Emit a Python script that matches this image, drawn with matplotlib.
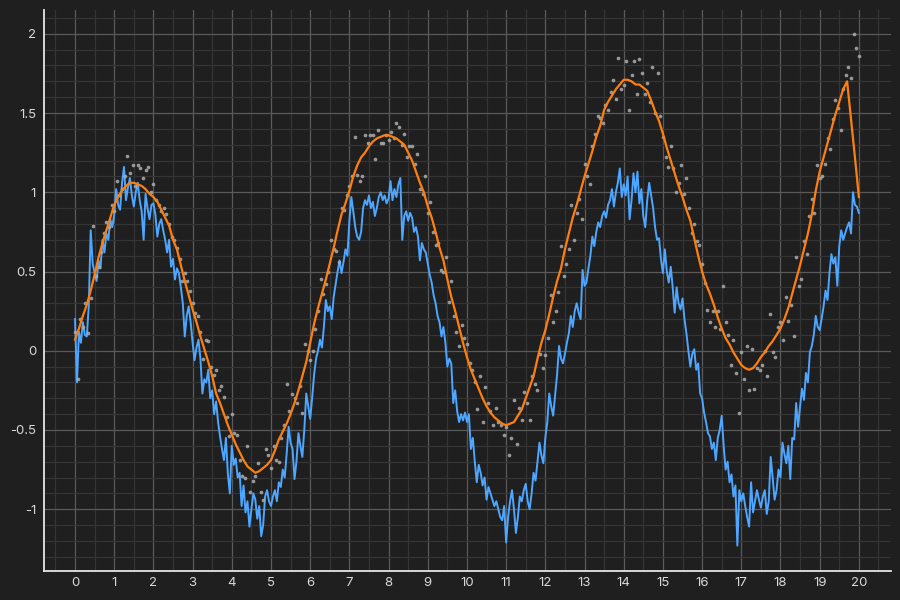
import matplotlib
matplotlib.use('Agg')
import matplotlib.pyplot as plt
import numpy as np
from matplotlib.ticker import MultipleLocator, FuncFormatter

# noisy signal (blue), sampled every 0.05 from 0 to 20
blue_y = [
    0.20, -0.20, 0.12, 0.05, 0.18, 0.10, 0.09, 0.28, 0.76, 0.55, 0.49, 0.44, 0.57, 0.52, 0.70, 0.62, 0.74, 0.70, 0.83, 0.78,
    0.86, 1.02, 0.92, 0.89, 1.06, 1.16, 0.95, 1.03, 1.09, 0.98, 0.91, 1.00, 1.06, 0.95, 0.88, 0.70, 0.99, 0.90, 0.83, 0.92,
    0.93, 0.86, 0.72, 0.80, 0.83, 0.76, 0.70, 0.62, 0.70, 0.53, 0.58, 0.45, 0.52, 0.49, 0.40, 0.30, 0.09, 0.22, 0.28, 0.18,
    0.05, -0.06, 0.02, 0.07, -0.05, -0.27, -0.18, -0.20, -0.12, -0.30, -0.25, -0.40, -0.32, -0.45, -0.54, -0.62, -0.69, -0.55, -0.78, -0.90,
    -0.60, -0.72, -0.68, -0.80, -0.77, -0.98, -0.85, -1.02, -0.95, -1.11, -1.00, -0.90, -0.94, -1.06, -0.98, -1.17, -1.10, -0.92, -0.88, -0.95,
    -0.98, -0.92, -0.88, -0.95, -0.83, -0.86, -0.75, -0.80, -0.65, -0.48, -0.58, -0.62, -0.81, -0.70, -0.52, -0.60, -0.67, -0.50, -0.27, -0.35,
    -0.43, -0.30, -0.15, -0.05, 0.00, 0.07, 0.02, 0.15, 0.32, 0.25, 0.28, 0.20, 0.34, 0.42, 0.50, 0.57, 0.49, 0.56, 0.64, 0.60,
    0.82, 0.97, 0.88, 0.78, 0.72, 0.70, 0.75, 0.90, 0.95, 0.92, 0.98, 0.90, 0.94, 0.85, 0.90, 0.97, 1.00, 0.95, 0.98, 0.93,
    0.96, 1.07, 0.95, 1.02, 0.97, 1.05, 1.09, 0.70, 0.85, 0.88, 0.82, 0.87, 0.84, 0.75, 0.78, 0.72, 0.57, 0.68, 0.64, 0.62,
    0.55, 0.48, 0.43, 0.35, 0.30, 0.22, 0.18, 0.09, 0.15, 0.05, -0.10, -0.05, -0.08, -0.33, -0.25, -0.38, -0.45, -0.40, -0.44, -0.39,
    -0.45, -0.40, -0.62, -0.55, -0.70, -0.83, -0.72, -0.77, -0.85, -0.80, -0.94, -0.86, -0.90, -0.94, -0.98, -0.95, -1.00, -1.05, -1.07, -0.98,
    -1.21, -1.05, -0.95, -0.88, -1.00, -1.15, -1.05, -0.92, -0.95, -0.88, -0.84, -0.95, -1.00, -0.90, -0.77, -0.82, -0.70, -0.58, -0.66, -0.71,
    -0.55, -0.45, -0.27, -0.35, -0.41, -0.28, -0.15, 0.03, -0.05, -0.08, -0.02, 0.05, 0.11, 0.22, 0.15, 0.25, 0.30, 0.24, 0.20, 0.51,
    0.41, 0.43, 0.52, 0.60, 0.72, 0.66, 0.75, 0.81, 0.78, 0.85, 0.88, 0.84, 0.92, 0.95, 1.02, 0.91, 1.00, 1.06, 1.15, 0.97,
    1.05, 0.98, 1.10, 0.83, 0.95, 1.12, 1.00, 1.13, 0.93, 1.02, 0.85, 0.78, 0.95, 1.06, 0.98, 0.90, 0.78, 0.70, 0.71, 0.58,
    0.49, 0.64, 0.50, 0.43, 0.53, 0.40, 0.24, 0.40, 0.30, 0.26, 0.33, 0.20, 0.11, 0.00, -0.10, -0.02, 0.01, -0.12, -0.08, -0.27,
    -0.30, -0.39, -0.45, -0.52, -0.54, -0.62, -0.58, -0.69, -0.55, -0.50, -0.41, -0.60, -0.75, -0.70, -0.83, -0.78, -0.92, -0.85, -1.23, -0.88,
    -0.95, -0.90, -0.98, -1.05, -1.11, -0.83, -1.02, -0.95, -0.88, -0.94, -0.99, -0.92, -0.88, -1.03, -0.95, -0.67, -0.80, -0.94, -0.88, -0.75,
    -0.80, -0.58, -0.65, -0.71, -0.60, -0.81, -0.55, -0.56, -0.33, -0.48, -0.35, -0.24, -0.31, -0.14, -0.20, -0.01, 0.03, 0.10, 0.22, 0.15,
    0.13, 0.20, 0.28, 0.38, 0.32, 0.49, 0.61, 0.55, 0.59, 0.41, 0.66, 0.76, 0.70, 0.74, 0.78, 0.81, 0.74, 1.00, 0.92, 0.91,
    0.87,
]

# scattered samples (grey dots), 15 per unit from 0 to 20
dots_y = [
    0.12, -0.18, 0.20, 0.15, 0.30, 0.11, 0.33, 0.79, 0.47, 0.53, 0.62, 0.74, 0.81, 0.78, 0.92,
    0.88, 1.07, 0.98, 1.02, 1.10, 1.23, 1.12, 1.17, 1.04, 1.17, 1.15, 1.09, 1.14, 1.16, 1.00,
    1.05, 0.95, 0.92, 0.88, 0.90, 0.86, 0.80, 0.72, 0.70, 0.65, 0.58, 0.44, 0.49, 0.44, 0.38,
    0.30, 0.24, 0.22, 0.12, -0.05, 0.07, 0.06, -0.10, -0.15, -0.12, -0.25, -0.22, -0.29, -0.42, -0.54,
    -0.40, -0.52, -0.53, -0.69, -0.79, -0.80, -0.60, -0.89, -0.82, -0.79, -0.71, -0.89, -0.94, -0.62, -0.66,
    -0.74, -0.60, -0.69, -0.70, -0.55, -0.47, -0.21, -0.38, -0.27, -0.30, -0.33, -0.22, -0.39, 0.04, 0.00,
    -0.06, 0.00, 0.14, 0.25, 0.45, 0.36, 0.42, 0.50, 0.70, 0.64, 0.63, 0.56, 0.90, 0.89, 0.98,
    1.04, 1.10, 1.35, 1.11, 1.07, 1.10, 1.36, 1.31, 1.36, 1.36, 1.21, 1.39, 1.31, 1.31, 1.36,
    1.33, 1.38, 1.34, 1.44, 1.41, 1.30, 1.37, 1.22, 1.29, 1.29, 1.18, 1.24, 1.02, 0.99, 1.10,
    0.87, 0.94, 0.75, 0.67, 0.68, 0.51, 0.50, 0.59, 0.31, 0.44, 0.22, 0.12, 0.03, 0.16, 0.08,
    0.04, -0.08, -0.12, -0.20, -0.37, -0.16, -0.45, -0.23, -0.33, -0.38, -0.47, -0.36, -0.45, -0.47, -0.53,
    -0.48, -0.66, -0.55, -0.31, -0.59, -0.36, -0.44, -0.26, -0.33, -0.44, -0.16, -0.21, -0.25, -0.02, -0.11,
    -0.03, 0.08, 0.35, 0.18, 0.25, 0.37, 0.66, 0.47, 0.55, 0.64, 0.92, 0.70, 0.87, 0.96, 0.83,
    1.18, 1.10, 1.05, 1.29, 1.37, 1.48, 1.47, 1.44, 1.55, 1.52, 1.63, 1.71, 1.59, 1.85, 1.65,
    1.68, 1.83, 1.52, 1.74, 1.83, 1.62, 1.84, 1.75, 1.62, 1.69, 1.57, 1.79, 1.50, 1.75, 1.48,
    1.35, 1.22, 1.16, 1.29, 1.15, 1.00, 1.06, 1.17, 0.99, 1.09, 0.90, 0.74, 0.80, 0.69, 0.67,
    0.55, 0.43, 0.26, 0.18, 0.25, 0.15, 0.25, 0.14, 0.41, 0.18, 0.10, -0.09, 0.07, -0.14, -0.39,
    -0.01, -0.18, 0.03, -0.25, 0.01, -0.24, -0.11, -0.12, -0.09, 0.00, -0.16, 0.23, -0.01, -0.04, 0.15,
    0.18, 0.07, 0.34, 0.19, 0.29, 0.09, 0.59, 0.41, 0.45, 0.69, 0.61, 0.85, 0.96, 0.87, 1.17,
    1.09, 1.10, 1.18, 1.34, 1.27, 1.46, 1.58, 1.53, 1.39, 1.65, 1.74, 1.79, 1.72, 2.00, 1.91,
    1.86,
]

# smoothed curve (orange), every 0.1 from 0 to 20
smooth_y = [
    0.07, 0.14, 0.22, 0.29, 0.38, 0.48, 0.59, 0.68, 0.76, 0.84,
    0.92, 0.97, 1.01, 1.04, 1.06, 1.06, 1.05, 1.04, 1.02, 0.99,
    0.97, 0.94, 0.89, 0.84, 0.79, 0.70, 0.64, 0.54, 0.44, 0.35,
    0.26, 0.18, 0.09, 0.01, -0.07, -0.16, -0.27, -0.33, -0.40, -0.47,
    -0.53, -0.59, -0.64, -0.69, -0.73, -0.75, -0.77, -0.76, -0.74, -0.72,
    -0.69, -0.63, -0.56, -0.51, -0.46, -0.40, -0.33, -0.25, -0.16, -0.07,
    0.05, 0.17, 0.27, 0.36, 0.45, 0.55, 0.65, 0.76, 0.86, 0.93,
    1.01, 1.10, 1.17, 1.22, 1.25, 1.29, 1.32, 1.34, 1.35, 1.36,
    1.36, 1.35, 1.34, 1.32, 1.30, 1.25, 1.20, 1.13, 1.06, 1.00,
    0.91, 0.84, 0.75, 0.65, 0.57, 0.45, 0.34, 0.25, 0.15, 0.05,
    -0.04, -0.12, -0.18, -0.24, -0.30, -0.35, -0.39, -0.42, -0.44, -0.46,
    -0.47, -0.46, -0.45, -0.41, -0.37, -0.30, -0.23, -0.16, -0.05, 0.05,
    0.13, 0.23, 0.34, 0.44, 0.52, 0.64, 0.74, 0.84, 0.92, 1.01,
    1.10, 1.18, 1.26, 1.35, 1.42, 1.52, 1.57, 1.61, 1.65, 1.68,
    1.71, 1.71, 1.70, 1.68, 1.68, 1.66, 1.64, 1.58, 1.51, 1.45,
    1.37, 1.28, 1.20, 1.12, 1.04, 0.97, 0.89, 0.82, 0.71, 0.60,
    0.50, 0.42, 0.36, 0.29, 0.21, 0.14, 0.08, 0.04, -0.01, -0.05,
    -0.09, -0.11, -0.12, -0.11, -0.08, -0.04, -0.01, 0.03, 0.06, 0.10,
    0.14, 0.20, 0.27, 0.36, 0.45, 0.54, 0.64, 0.74, 0.86, 1.01,
    1.13, 1.22, 1.31, 1.40, 1.49, 1.57, 1.65, 1.70, 1.46, 1.22,
    0.97,
]

bg = '#1f1f1f'
plt.rcParams['font.family'] = ['Inter', 'DejaVu Sans']
plt.rcParams['axes.unicode_minus'] = False

fig = plt.figure(figsize=(9, 6), dpi=100, facecolor=bg)
ax = fig.add_axes([0.0494, 0.0483, 0.9406, 0.935])
ax.set_facecolor(bg)

ax.plot(np.linspace(0, 20, len(blue_y)), blue_y, color='#4da6ff', lw=1.4, zorder=3)
ax.scatter(np.linspace(0, 20, len(dots_y)), dots_y, s=7, color='#adadad', alpha=0.85,
           linewidths=0, zorder=4)
ax.plot(np.linspace(0, 20, len(smooth_y)), smooth_y, color='#ff7f0e', lw=1.6, zorder=5)

ax.set_xlim(-0.78, 20.82)
ax.set_ylim(-1.39, 2.15)
ax.xaxis.set_major_locator(MultipleLocator(1))
ax.xaxis.set_minor_locator(MultipleLocator(0.5))
ax.yaxis.set_major_locator(MultipleLocator(0.5))
ax.yaxis.set_minor_locator(MultipleLocator(0.1))
fmt = FuncFormatter(lambda v, p: '%g' % round(v, 2))
ax.xaxis.set_major_formatter(fmt)
ax.yaxis.set_major_formatter(fmt)

ax.grid(which='major', color='#5a5a5a', lw=0.9, zorder=0)
ax.grid(which='minor', color='#353535', lw=0.9, zorder=0)
ax.set_axisbelow(True)

for s in ['top', 'right']:
    ax.spines[s].set_visible(False)
for s in ['left', 'bottom']:
    ax.spines[s].set_color('#e6e6e6')
    ax.spines[s].set_linewidth(1.3)

ax.tick_params(which='both', length=0, colors='#d9d9d9', labelsize=9.5)
ax.tick_params(axis='x', pad=4)
ax.tick_params(axis='y', pad=6)

fig.savefig('out.png', dpi=100, facecolor=bg)
